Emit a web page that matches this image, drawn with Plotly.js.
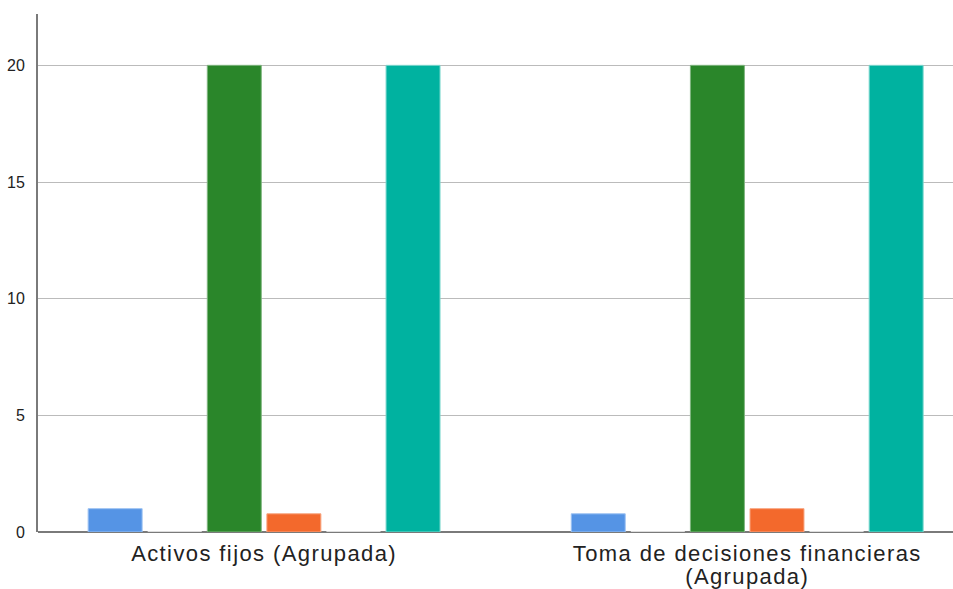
<!DOCTYPE html>
<html>
<head>
<meta charset="utf-8">
<script src="https://cdn.plot.ly/plotly-3.0.1.min.js"></script>
<style>
html,body{margin:0;padding:0;background:#fff;}
.xtick text{letter-spacing:1.4px;}
</style>
</head>
<body>
<div id="chart" style="width:953px;height:589px;"></div>
<script>
const categories = ["Activos fijos (Agrupada)", "Toma de decisiones financieras<br>(Agrupada)"];
const seriesNames = ["Serie 1", "Serie 2", "Serie 3", "Serie 4", "Serie 5", "Serie 6"];
const serie1 = [1.0, 0.78];
const serie2 = [0, 0];
const serie3 = [20, 20];
const serie4 = [0.78, 1.0];
const serie5 = [0, 0];
const serie6 = [20, 20];
const yTicks = [0, 5, 10, 15, 20];

const allSeries = [serie1, serie2, serie3, serie4, serie5, serie6];
const colors = ["#5594E5", "#FFFFFF", "#2A862A", "#F3692C", "#FFFFFF", "#00B2A0"];
const borders = ["#9DC2F2", "#FFFFFF", "#7FB57F", "#F8A580", "#FFFFFF", "#7FD8CF"];

const traces = allSeries.map((vals, i) => ({
  type: "bar",
  name: seriesNames[i],
  x: [0, 1],
  y: vals,
  marker: {color: colors[i], line: {color: borders[i], width: 1}},
  showlegend: false,
  hoverinfo: "y"
}));

const layout = {
  width: 953, height: 589,
  margin: {l: 38, r: 0, t: 14, b: 57},
  paper_bgcolor: "#fff", plot_bgcolor: "#fff",
  font: {family: "Liberation Sans, Arial, sans-serif", color: "#222"},
  barmode: "group",
  bargap: 0.26,
  bargroupgap: 0.094,
  showlegend: false,
  xaxis: {
    range: [-0.468, 1.426],
    tickvals: [0, 1],
    ticktext: categories,
    showgrid: false,
    zeroline: false,
    showline: false,
    ticks: "",
    tickfont: {size: 22, color: "#222"},
    ticklabelstandoff: 6
  },
  yaxis: {
    range: [0, 22.2],
    tickvals: yTicks,
    ticktext: yTicks.map(String),
    showgrid: true,
    gridcolor: "#BBBBBB",
    gridwidth: 1,
    zeroline: true,
    zerolinecolor: "#7A7A7A",
    zerolinewidth: 2,
    showline: true,
    linecolor: "#7A7A7A",
    linewidth: 2,
    ticks: "",
    tickfont: {size: 16, color: "#222"},
    ticklabelstandoff: 8
  }
};

Plotly.newPlot("chart", traces, layout, {displayModeBar: false, staticPlot: true}).then(() => {
  // tighten the line spacing of wrapped category labels, as in the reference
  document.querySelectorAll(".xtick text tspan.line").forEach(t => {
    const dy = t.getAttribute("dy");
    if (dy && dy !== "0em") t.setAttribute("dy", "1.05em");
  });
});
</script>
</body>
</html>
